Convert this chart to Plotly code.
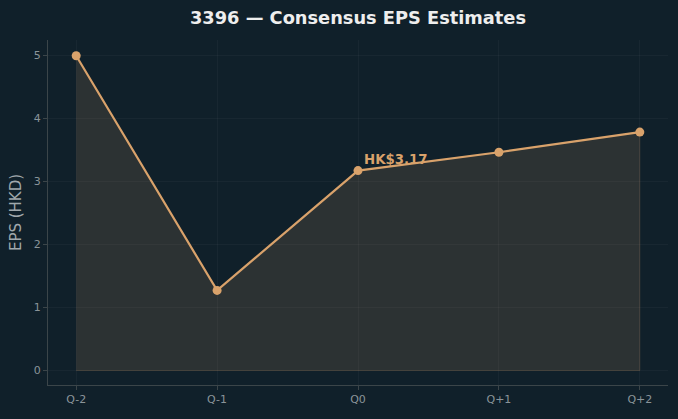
import plotly.graph_objects as go

quarters = ["Q-2", "Q-1", "Q0", "Q+1", "Q+2"]
eps = [4.99, 1.27, 3.17, 3.46, 3.78]
highlight_label = "HK$3.17"
highlight_index = 2

BG = "#10202a"
ORANGE = "#d9a26b"
GRID = "rgba(255,255,255,0.035)"
SPINE = "#3b4549"
TICK = "#8a9499"

x_idx = list(range(len(quarters)))

fig = go.Figure()
# filled area polygon (closed at zero)
fig.add_trace(go.Scatter(
    x=x_idx + x_idx[::-1], y=eps + [0] * len(eps),
    fill="toself", fillcolor="rgba(217,162,107,0.14)",
    line=dict(color="rgba(217,162,107,0.18)", width=1),
    mode="lines", hoverinfo="skip", showlegend=False,
))
fig.add_trace(go.Scatter(
    x=x_idx, y=eps, mode="lines+markers",
    line=dict(color=ORANGE, width=2.2),
    marker=dict(color=ORANGE, size=9),
    showlegend=False,
))

fig.add_annotation(
    x=x_idx[highlight_index], y=eps[highlight_index], text="<b>" + highlight_label + "</b>",
    showarrow=False, xanchor="left", yanchor="middle", xshift=4, yshift=11,
    font=dict(color=ORANGE, size=13.3, family="DejaVu Sans"),
)

fig.update_layout(
    width=678, height=419,
    paper_bgcolor=BG, plot_bgcolor=BG,
    margin=dict(l=48, r=10, t=40, b=34),
    title=dict(text="<b>3396 — Consensus EPS Estimates</b>", x=0.5, xref="paper", xanchor="center",
               y=0.957, yanchor="middle",
               font=dict(color="#eeeeee", size=17.8, family="DejaVu Sans")),
    font=dict(family="DejaVu Sans", color=TICK),
)
fig.update_xaxes(
    range=[-0.2, 4.2], tickmode="array", tickvals=x_idx, ticktext=quarters,
    showgrid=True, gridcolor=GRID, zeroline=False,
    showline=True, linecolor=SPINE, linewidth=1,
    ticks="outside", ticklen=4, tickcolor=SPINE,
    tickfont=dict(size=11, color=TICK),
)
fig.update_yaxes(
    range=[-0.23, 5.24], tickvals=[0, 1, 2, 3, 4, 5],
    showgrid=True, gridcolor=GRID, zeroline=False,
    showline=True, linecolor=SPINE, linewidth=1,
    ticks="outside", ticklen=4, tickcolor=SPINE,
    tickfont=dict(size=11, color=TICK),
    title=dict(text="EPS (HKD)", font=dict(size=15, color="#a0a8ac"), standoff=8),
)

fig.write_html("out.html")
